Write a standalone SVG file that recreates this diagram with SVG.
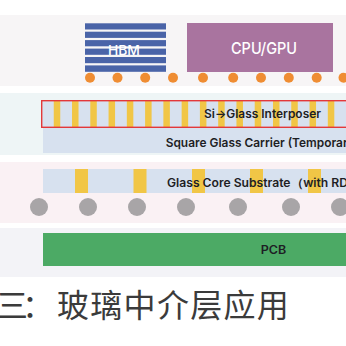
<svg xmlns="http://www.w3.org/2000/svg" width="346" height="346" viewBox="0 0 346 346">
<style>
.lbl{font-family:Inter,"Noto Sans","Liberation Sans",sans-serif;font-weight:600;fill:#1e1e24}
.wlbl{font-family:Inter,"Noto Sans","Liberation Sans",sans-serif;font-weight:500;fill:#ffffff}
.stripe{fill:#4a64a8}
.bump{fill:#ef8d33}
.via{fill:#f1c646}
.ball{fill:#a8a5a7}
.glass{fill:#d7e1ef}
</style>
<rect x="0" y="0" width="346" height="346" fill="#ffffff"/>
<g id="bands">
<rect x="0" y="15" width="346" height="71" fill="#f7f5f6"/>
<rect x="0" y="93" width="346" height="62" fill="#eef5f6"/>
<rect x="0" y="162" width="346" height="61" fill="#faf1f4"/>
<rect x="0" y="228" width="346" height="49" fill="#f3f3f7"/>
</g>
<g id="hbm">
<rect class="stripe" x="85" y="23.3" width="81" height="6.2"/>
<rect class="stripe" x="85" y="31.7" width="81" height="6.2"/>
<rect class="stripe" x="85" y="40.1" width="81" height="6.2"/>
<rect class="stripe" x="85" y="48.6" width="81" height="6.2"/>
<rect class="stripe" x="85" y="57.0" width="81" height="6.2"/>
<rect class="stripe" x="85" y="65.4" width="81" height="6.4"/>
<text class="wlbl" x="108" y="54.5" font-size="12.5" textLength="32" lengthAdjust="spacingAndGlyphs">HBM</text>
</g>
<g id="cpu">
<rect x="187" y="23" width="146" height="49" fill="#a9749f"/>
<text class="wlbl" x="231" y="54.3" font-size="16" textLength="66" lengthAdjust="spacingAndGlyphs">CPU/GPU</text>
</g>
<g id="bumps">
<circle class="bump" cx="90" cy="77.7" r="5"/>
<circle class="bump" cx="117.5" cy="77.7" r="5"/>
<circle class="bump" cx="145.2" cy="77.7" r="5"/>
<circle class="bump" cx="173" cy="77.7" r="5"/>
<circle class="bump" cx="203" cy="77.7" r="5"/>
<circle class="bump" cx="233.2" cy="77.7" r="5"/>
<circle class="bump" cx="261" cy="77.7" r="5"/>
<circle class="bump" cx="288.8" cy="77.7" r="5"/>
<circle class="bump" cx="316.7" cy="77.7" r="5"/>
<circle class="bump" cx="343.5" cy="77.7" r="5"/>
</g>
<g id="interposer">
<rect class="glass" x="41" y="100" width="320" height="28"/>
<rect class="via" x="53.75" y="100.7" width="6.5" height="26.6"/>
<rect class="via" x="72.02" y="100.7" width="6.5" height="26.6"/>
<rect class="via" x="90.29" y="100.7" width="6.5" height="26.6"/>
<rect class="via" x="108.56" y="100.7" width="6.5" height="26.6"/>
<rect class="via" x="126.83" y="100.7" width="6.5" height="26.6"/>
<rect class="via" x="145.1" y="100.7" width="6.5" height="26.6"/>
<rect class="via" x="163.37" y="100.7" width="6.5" height="26.6"/>
<rect class="via" x="181.64" y="100.7" width="6.5" height="26.6"/>
<rect class="via" x="199.91" y="100.7" width="6.5" height="26.6"/>
<rect class="via" x="218.18" y="100.7" width="6.5" height="26.6"/>
<rect class="via" x="236.45" y="100.7" width="6.5" height="26.6"/>
<rect class="via" x="254.72" y="100.7" width="6.5" height="26.6"/>
<rect class="via" x="272.99" y="100.7" width="6.5" height="26.6"/>
<rect class="via" x="291.26" y="100.7" width="6.5" height="26.6"/>
<rect class="via" x="309.53" y="100.7" width="6.5" height="26.6"/>
<rect class="via" x="327.8" y="100.7" width="6.5" height="26.6"/>
<rect x="41.7" y="100.7" width="320" height="26.6" fill="none" stroke="#e3383a" stroke-width="1.4"/>
<text class="lbl" x="204" y="118.4" font-size="11.5" textLength="117" lengthAdjust="spacingAndGlyphs">Si→Glass Interposer</text>
</g>
<g id="carrier">
<rect class="glass" x="43" y="128" width="310" height="25" fill="#d9e2ef"/>
<text class="lbl" x="165.7" y="146.6" font-size="12" textLength="182" lengthAdjust="spacingAndGlyphs">Square Glass Carrier (Temporar</text>
</g>
<g id="substrate">
<rect class="glass" x="43" y="169" width="310" height="24"/>
<rect class="via" x="75" y="169" width="13" height="24"/>
<rect class="via" x="133.5" y="169" width="13" height="24"/>
<rect class="via" x="192" y="169" width="13" height="24"/>
<rect class="via" x="250" y="169" width="13" height="24"/>
<rect class="via" x="308" y="169" width="13" height="24"/>
<text class="lbl" x="167" y="186.7" font-size="11.5" textLength="181" lengthAdjust="spacingAndGlyphs">Glass Core Substrate（with RD</text>
</g>
<g id="balls">
<circle class="ball" cx="39" cy="207" r="9"/>
<circle class="ball" cx="88" cy="207" r="9"/>
<circle class="ball" cx="137" cy="207" r="9"/>
<circle class="ball" cx="186" cy="207" r="9"/>
<circle class="ball" cx="238" cy="207" r="9"/>
<circle class="ball" cx="291" cy="207" r="9"/>
<circle class="ball" cx="340" cy="207" r="9"/>
</g>
<g id="pcb">
<rect x="43" y="233" width="310" height="33" fill="#4caa65"/>
<text class="lbl" x="260.7" y="254.3" font-size="11.5" textLength="25.5" lengthAdjust="spacingAndGlyphs" fill="#15251a">PCB</text>
</g>
<g id="connectors"/>
<g id="caption">
<text x="-4 22 57 90.3 123.6 156.9 190.2 223.5 256.8" y="317" font-size="32" fill="#3b3b3b" font-family="'Noto Sans CJK SC','Noto Sans CJK TC',sans-serif">三：玻璃中介层应用</text>
</g>
</svg>
